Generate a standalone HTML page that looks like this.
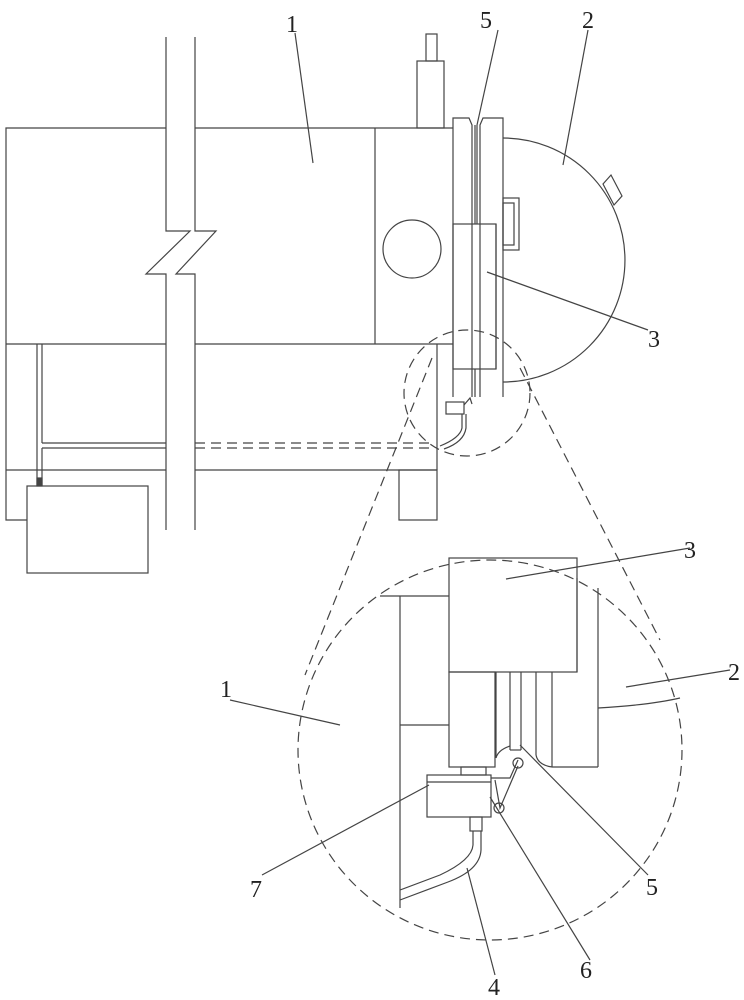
<!DOCTYPE html>
<html><head><meta charset="utf-8"><style>
html,body{margin:0;padding:0;background:#fff;}
svg{display:block;}
text{font-family:"Liberation Serif",serif;font-size:24px;fill:#222;}
</style></head><body>
<svg width="744" height="1000" viewBox="0 0 744 1000" xmlns="http://www.w3.org/2000/svg">
<g fill="none" stroke="#444" stroke-width="1.2">
<!-- main body -->
<polyline points="166,128 6,128 6,520 27,520"/>
<line x1="195" y1="128" x2="453" y2="128"/>
<line x1="6" y1="344" x2="166" y2="344"/>
<line x1="195" y1="344" x2="453" y2="344"/>
<line x1="375" y1="128" x2="375" y2="344"/>
<line x1="6" y1="470" x2="166" y2="470"/>
<line x1="195" y1="470" x2="437" y2="470"/>
<line x1="437" y1="344" x2="437" y2="470"/>
<circle cx="412" cy="249" r="29"/>
<!-- break -->
<polyline points="166,37 166,231 190,231 146,274 166,274 166,530"/>
<polyline points="195,37 195,231 216,231 176,274 195,274 195,530"/>
<!-- pipe -->
<line x1="37" y1="344" x2="37" y2="486"/>
<line x1="42" y1="344" x2="42" y2="443"/>
<line x1="42" y1="443" x2="166" y2="443"/>
<line x1="42" y1="448" x2="166" y2="448"/>
<line x1="42" y1="448" x2="42" y2="486"/>
<rect x="37" y="478" width="5" height="8" fill="#444"/>
<rect x="27" y="486" width="121" height="87"/>
<line x1="195" y1="443" x2="430" y2="443" stroke-dasharray="10,6"/>
<line x1="195" y1="448" x2="430" y2="448" stroke-dasharray="10,6"/>
<rect x="399" y="470" width="38" height="50"/>
<!-- cylinder -->
<rect x="426" y="34" width="11" height="27"/>
<rect x="417" y="61" width="27" height="67"/>
<!-- plates -->
<polyline points="453,397 453,118 469,118 472,125 472,397"/>
<polyline points="503,397 503,118 483,118 480,125 480,397"/>
<line x1="475" y1="125" x2="475" y2="224"/>
<line x1="477" y1="125" x2="477" y2="224"/>
<line x1="475" y1="369" x2="475" y2="397"/>
<rect x="453" y="224" width="43" height="145"/>
<line x1="496" y1="224" x2="496" y2="369"/>
<!-- dome -->
<path d="M503,138 A122,122 0 0 1 503,382"/>
<polygon points="603,184 611,175 622,196 614,205"/>
<rect x="503" y="198" width="16" height="52"/>
<rect x="503" y="203" width="11" height="42"/>
<!-- small sensor -->
<rect x="446" y="402" width="18" height="12"/>
<path d="M462,414 L462,428 Q460,438 440,446" />
<path d="M466,414 L466,428 Q464,442 444,449" />
<polyline points="464,405 470,398 472,404"/>
<!-- small dashed circle -->
<g stroke-dasharray="10,6">
<circle cx="467" cy="393" r="63"/>
<ellipse cx="490" cy="750" rx="192" ry="190"/>
<line x1="432" y1="358" x2="305" y2="675"/>
<line x1="520" y1="368" x2="660" y2="640"/>
</g>
<!-- detail -->
<line x1="400" y1="596" x2="400" y2="908"/>
<line x1="380" y1="596" x2="449" y2="596"/>
<line x1="400" y1="725" x2="449" y2="725"/>
<rect x="449" y="558" width="128" height="114"/>
<rect x="449" y="672" width="46" height="95"/>
<line x1="496" y1="672" x2="496" y2="758"/>
<line x1="510" y1="672" x2="510" y2="750"/>
<line x1="521" y1="672" x2="521" y2="750"/>
<line x1="510" y1="750" x2="521" y2="750"/>
<line x1="536" y1="672" x2="536" y2="755"/>
<line x1="552" y1="672" x2="552" y2="767"/>
<path d="M496,758 Q498,750 510,746"/>
<path d="M536,755 Q538,765 552,767"/>
<line x1="552" y1="767" x2="598" y2="767"/>
<line x1="577" y1="578" x2="577" y2="672"/>
<line x1="598" y1="588" x2="598" y2="767"/>
<path d="M598,708 Q650,705 680,698"/>
<rect x="461" y="767" width="25" height="8"/>
<rect x="427" y="775" width="64" height="42"/>
<line x1="427" y1="782" x2="491" y2="782"/>
<polyline points="491,778 510,778 518,760"/>
<polyline points="495,780 500,808 518,766"/>
<circle cx="518" cy="763" r="5"/>
<circle cx="499" cy="808" r="5"/>
<rect x="470" y="817" width="12" height="14"/>
<path d="M473,831 L473,845 Q472,860 440,875 L400,890"/>
<path d="M481,831 L481,850 Q480,870 448,882 L400,900"/>
<!-- leaders -->
<line x1="295" y1="33" x2="313" y2="163"/>
<line x1="498" y1="30" x2="477" y2="125"/>
<line x1="588" y1="30" x2="563" y2="165"/>
<line x1="648" y1="330" x2="487" y2="272"/>
<line x1="690" y1="548" x2="506" y2="579"/>
<line x1="730" y1="670" x2="626" y2="687"/>
<line x1="230" y1="700" x2="340" y2="725"/>
<line x1="262" y1="875" x2="429" y2="785"/>
<line x1="648" y1="875" x2="520" y2="745"/>
<line x1="590" y1="960" x2="490" y2="797"/>
<line x1="495" y1="975" x2="467" y2="868"/>
</g>
<text x="286" y="32">1</text>
<text x="480" y="28">5</text>
<text x="582" y="28">2</text>
<text x="648" y="347">3</text>
<text x="684" y="558">3</text>
<text x="728" y="680">2</text>
<text x="220" y="697">1</text>
<text x="250" y="897">7</text>
<text x="646" y="895">5</text>
<text x="580" y="978">6</text>
<text x="488" y="995">4</text>
</svg>
</body></html>
